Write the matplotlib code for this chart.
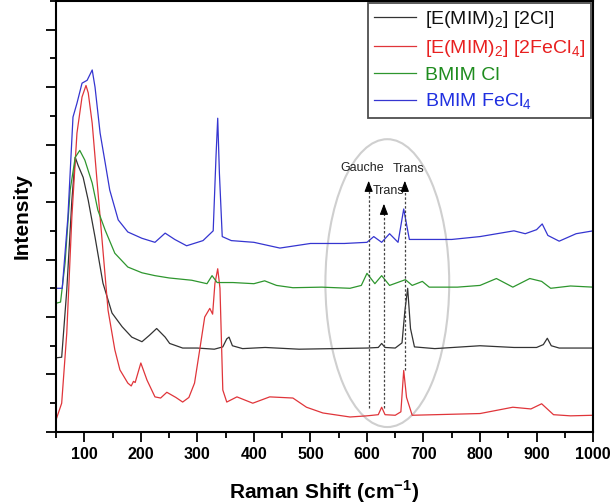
import numpy as np
import matplotlib
matplotlib.use('Agg')
import matplotlib.pyplot as plt
from matplotlib.patches import Ellipse
from matplotlib.ticker import MultipleLocator

plt.rcParams['font.family'] = ['Liberation Sans', 'DejaVu Sans']
plt.rcParams['mathtext.fontset'] = 'custom'
plt.rcParams['mathtext.rm'] = 'Liberation Sans'
plt.rcParams['mathtext.bf'] = 'Liberation Sans:bold'

# [E(MIM)2] [2Cl]  (black)
wn_k = [50, 60, 69, 78, 84, 89, 98, 107, 119, 133, 149, 167, 184, 202, 215, 228, 243, 251, 274, 300,
        330, 345, 352, 356, 362, 380, 420, 480, 540, 600, 620, 626, 632, 650, 662, 667, 672, 677, 684, 720,
        800, 860, 900, 912, 919, 926, 940, 1000]
int_k = [1.29, 1.30, 2.47, 4.03, 4.78, 4.64, 4.43, 4.03, 3.39, 2.59, 2.07, 1.83, 1.65, 1.57, 1.68, 1.80, 1.65, 1.54, 1.46, 1.46,
         1.44, 1.48, 1.62, 1.65, 1.50, 1.45, 1.47, 1.44, 1.45, 1.46, 1.47, 1.54, 1.47, 1.46, 1.55, 2.10, 2.50, 1.80, 1.48, 1.45,
         1.50, 1.47, 1.47, 1.52, 1.63, 1.50, 1.46, 1.46]

# [E(MIM)2] [2FeCl4]  (red)
wn_r = [50, 60, 69, 78, 87, 96, 103, 107, 114, 122, 131, 142, 154, 163, 177, 183, 187, 190, 200, 211,
        225, 235, 246, 262, 274, 285, 295, 304, 313, 322, 327, 331, 336, 340, 345, 352, 370, 398, 428, 469,
        493, 522, 570, 600, 620, 626, 632, 650, 660, 665, 670, 680, 720, 800, 858, 890, 909, 930, 960, 1000]
int_r = [0.21, 0.50, 1.72, 3.74, 5.20, 5.83, 6.03, 5.90, 5.37, 4.43, 3.39, 2.12, 1.43, 1.08, 0.85, 0.80, 0.88, 0.86, 1.20, 0.90,
         0.61, 0.59, 0.69, 0.60, 0.52, 0.60, 0.85, 1.42, 2.00, 2.15, 2.05, 2.58, 2.84, 2.50, 0.73, 0.52, 0.61, 0.50, 0.61, 0.59,
         0.43, 0.33, 0.26, 0.28, 0.30, 0.43, 0.30, 0.29, 0.35, 1.07, 0.60, 0.29, 0.30, 0.32, 0.43, 0.40, 0.49, 0.30, 0.28, 0.29]

# BMIM Cl  (green)
wn_g = [50, 58, 66, 75, 84, 92, 101, 114, 124, 137, 154, 177, 202, 225, 250, 290, 317, 326, 335, 363,
        400, 419, 440, 469, 520, 570, 590, 600, 614, 626, 640, 668, 680, 698, 710, 760, 800, 829, 858, 888,
        909, 925, 960, 1000]
int_g = [2.24, 2.26, 2.94, 4.21, 4.78, 4.90, 4.73, 4.33, 3.86, 3.51, 3.11, 2.87, 2.77, 2.72, 2.68, 2.64, 2.58, 2.72, 2.60, 2.60,
         2.58, 2.63, 2.55, 2.51, 2.52, 2.50, 2.55, 2.76, 2.58, 2.72, 2.55, 2.65, 2.55, 2.62, 2.52, 2.52, 2.55, 2.67, 2.52, 2.67,
         2.62, 2.50, 2.54, 2.52]

# BMIM FeCl4  (blue)
wn_b = [50, 61, 71, 80, 87, 96, 105, 114, 119, 128, 137, 145, 160, 177, 202, 225, 243, 260, 281, 310,
        328, 333, 336, 339, 344, 360, 400, 446, 500, 560, 600, 612, 626, 640, 655, 665, 675, 690, 750, 800,
        860, 880, 900, 910, 920, 940, 970, 1000]
int_b = [2.50, 2.50, 3.74, 5.48, 5.72, 6.07, 6.12, 6.30, 6.00, 5.20, 4.68, 4.21, 3.69, 3.48, 3.37, 3.30, 3.46, 3.35, 3.24, 3.33,
         3.50, 4.80, 5.46, 4.50, 3.40, 3.33, 3.30, 3.20, 3.28, 3.28, 3.30, 3.40, 3.30, 3.45, 3.30, 3.88, 3.35, 3.35, 3.35, 3.40,
         3.50, 3.45, 3.52, 3.62, 3.42, 3.32, 3.45, 3.50]

labels = [r'[E(MIM)$_\mathregular{2}$] [2Cl]', r'[E(MIM)$_\mathregular{2}$] [2FeCl$_\mathregular{4}$]',
          'BMIM Cl', r'BMIM FeCl$_\mathregular{4}$']
line_colors = ['#333333', '#e0353a', '#2e962e', '#3535d0']
text_colors = ['#111111', '#e82020', '#1f8c1f', '#2030e0']

fig = plt.figure(figsize=(6.11, 5.04), dpi=100)
ax = fig.add_axes([0.0917, 0.143, 0.879, 0.855])

series = [(wn_k, int_k), (wn_r, int_r), (wn_g, int_g), (wn_b, int_b)]
for (x, y), c, lab in zip(series, line_colors, labels):
    ax.plot(x, y, color=c, lw=0.9, label=lab)

# annotation region
ax.add_patch(Ellipse((636, 2.59), 219, 5.01, fill=False, ec='#cfcfcf', lw=1.5))
peaks = [(603, 0.42, 4.42, 'Gauche', 591, 4.59),
         (630, 0.42, 4.02, 'Trans', 638, 4.19),
         (667, 1.07, 4.42, 'Trans', 673, 4.57)]
for px, y0, ytip, txt, tx, ty in peaks:
    ax.plot([px, px], [y0, ytip - 0.15], ls=(0, (2, 1.5)), color='#444444', lw=0.9)
    ax.annotate('', xy=(px, ytip), xytext=(px, ytip - 0.22),
                arrowprops=dict(arrowstyle='-|>,head_length=0.65,head_width=0.25', color='black', lw=0.8))
    ax.text(tx, ty, txt, fontsize=9, ha='center', va='center', color='#222222')

ax.set_xlim(50, 1000)
ax.set_ylim(0, 7.5)
ax.xaxis.set_major_locator(MultipleLocator(100))
ax.xaxis.set_minor_locator(MultipleLocator(50))
ax.yaxis.set_major_locator(MultipleLocator(1))
ax.yaxis.set_minor_locator(MultipleLocator(0.5))
ax.set_yticklabels([])
ax.tick_params(which='major', direction='out', length=7, width=1.3)
ax.tick_params(which='minor', direction='out', length=4, width=1.3)
for lbl in ax.get_xticklabels():
    lbl.set_fontweight('bold')
    lbl.set_fontsize(11.5)
for s in ax.spines.values():
    s.set_linewidth(1.5)

ax.set_xlabel(r'Raman Shift (cm$^\mathbf{-1}$)', fontsize=15, fontweight='bold', labelpad=12)
ax.set_ylabel('Intensity', fontsize=15, fontweight='bold', labelpad=7)

leg = ax.legend(loc='upper right', fontsize=14, frameon=True, fancybox=False, handlelength=2.2,
                borderaxespad=0.1, labelspacing=0.4, handletextpad=0.45, borderpad=0.3)
leg.get_frame().set_edgecolor('#222222')
leg.get_frame().set_linewidth(1.3)
for t, c in zip(leg.get_texts(), text_colors):
    t.set_color(c)

fig.savefig('out.png', dpi=100)
